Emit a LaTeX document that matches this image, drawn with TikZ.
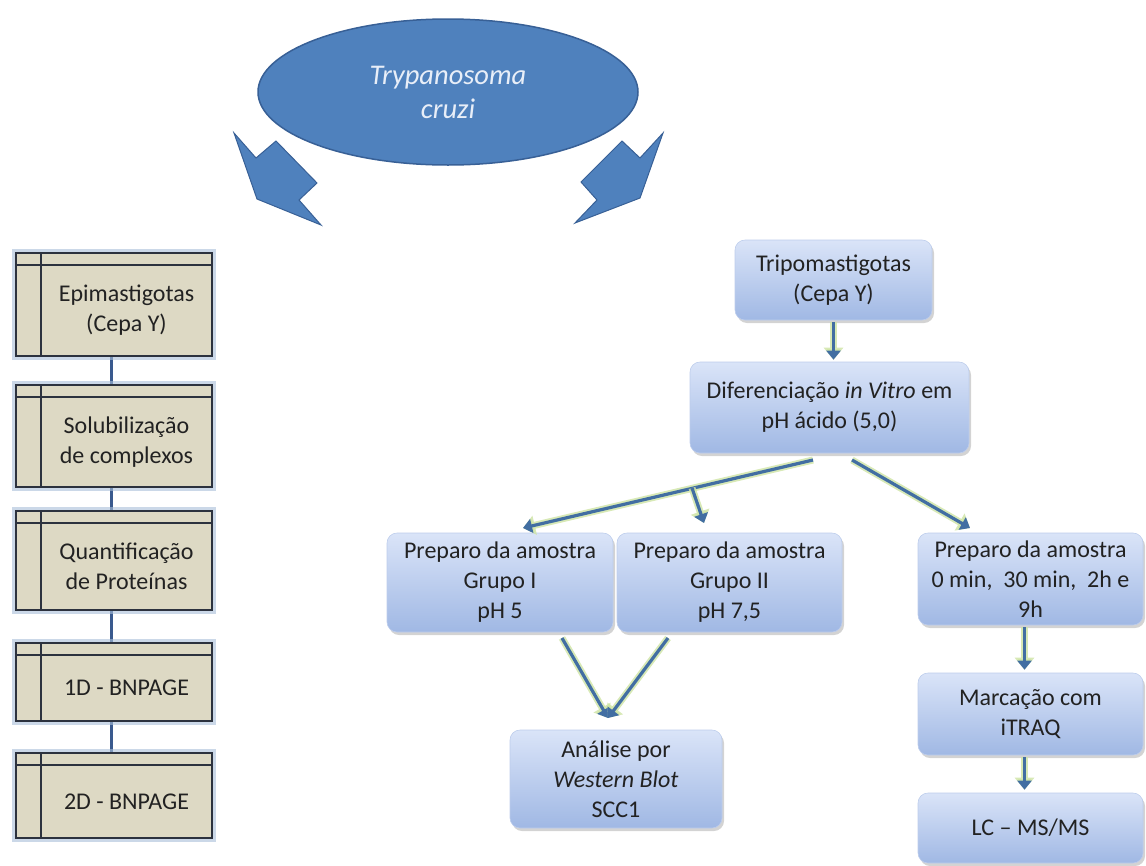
\documentclass[tikz,border=0pt]{standalone}
\usepackage{fontspec}
\setmainfont{Carlito}
\usetikzlibrary{shapes.geometric,shadows,arrows.meta,backgrounds,calc}

\definecolor{azul}{RGB}{79,129,189}
\definecolor{azulesc}{RGB}{56,96,150}
\definecolor{bege}{RGB}{221,217,196}
\definecolor{moldura}{RGB}{44,50,62}
\definecolor{halo}{RGB}{168,190,216}
\definecolor{seta}{RGB}{66,110,162}
\definecolor{brilho}{RGB}{206,228,164}
\definecolor{ligacao}{RGB}{58,90,142}
\definecolor{caixatopo}{RGB}{218,228,248}
\definecolor{caixabase}{RGB}{160,184,228}
\definecolor{texto}{RGB}{34,34,34}
\definecolor{claro}{RGB}{232,238,248}

\tikzset{
  etapa/.style={minimum width=171pt, inner sep=0pt, align=center, text=texto},
  moldbox/.style={fill=bege, draw=moldura, line width=1.6pt,
    preaction={draw=halo, line width=8pt, opacity=.6}},
  liga/.style={draw=ligacao, line width=3pt},
  passo/.style={rounded corners=10pt, top color=caixatopo, bottom color=caixabase,
    draw=caixabase!70!white, line width=.6pt, align=center, text=texto,
    inner sep=2pt, drop shadow={opacity=.35, shadow xshift=2pt, shadow yshift=-3pt}},
  seta/.style={draw=seta, line width=3.2pt, -{Triangle[length=9pt,width=14pt]},
    preaction={draw=brilho, line width=7pt, opacity=.8, -{Triangle[length=12pt,width=19pt]}}},
  bloco/.style={fill=azul, draw=azulesc, line width=1pt, line join=miter}
}

\begin{document}
\begin{tikzpicture}[x=1pt,y=-1pt,every node/.style={font=\fontsize{24}{30}\selectfont}]
  \useasboundingbox (0,0) rectangle (1146,865);

  % organismo
  \node[ellipse, fill=azul, draw=azulesc, line width=1.5pt, minimum width=380pt,
    minimum height=146pt, text=claro, align=center,
    font=\fontsize{28.5}{34}\selectfont\itshape] (tc) at (448,92) {Trypanosoma\\cruzi};
  \fill[bloco] (234,133) -- (256,158) -- (276,141) -- (317,183) -- (299,200)
    -- (321,225) -- (257,199) -- cycle;
  \fill[bloco] (663,133) -- (640,158) -- (622,141) -- (581,182) -- (597,200)
    -- (575,223) -- (640,198) -- cycle;

  % epimastigotas
  \node[etapa, minimum height=91pt] (epi) at (126.5,310.5) {Epimastigotas\\(Cepa Y)};
  \node[etapa, minimum height=90pt] (sol) at (126.5,442) {Solubilização\\de complexos};
  \node[etapa, minimum height=87pt] (qua) at (126.5,566.5) {Quantificação\\de Proteínas};
  \node[etapa, minimum height=66pt] (bn1) at (126.5,688) {1D - BNPAGE};
  \node[etapa, minimum height=73pt] (bn2) at (126.5,801.5) {2D - BNPAGE};

  \coordinate (xl) at (111,0);
  \begin{scope}[on background layer]
    \foreach \a/\b in {epi/sol,sol/qua,qua/bn1,bn1/bn2}
      \draw[liga] (\a.south -| xl) -- (\b.north -| xl);
    \foreach \n in {epi,sol,qua,bn1,bn2} {
      \draw[moldbox] ($(\n.north west)+(-25,-12)$) rectangle (\n.south east);
      \draw[moldura, line width=1.4pt] ($(\n.north west)+(-25,0)$) -- (\n.north east);
      \draw[moldura, line width=1.4pt] ($(\n.north west)+(0,-12)$) -- (\n.south west);
    }
  \end{scope}

  % tripomastigotas
  \node[passo, minimum width=197pt, minimum height=80pt] (trip) at (833.5,280)
    {Tripomastigotas\\(Cepa Y)};
  \node[passo, minimum width=279pt, minimum height=91pt] (dif) at (829.5,407.5)
    {Diferenciação \textit{in Vitro} em\\pH ácido (5,0)};
  \node[passo, minimum width=226pt, minimum height=99pt] (g1) at (500,582.5)
    {Preparo da amostra\\Grupo I\\pH 5};
  \node[passo, minimum width=225pt, minimum height=99pt] (g2) at (729.5,582.5)
    {Preparo da amostra\\Grupo II\\pH 7,5};
  \node[passo, minimum width=212pt, minimum height=98pt] (ana) at (616,779)
    {Análise por\\\textit{Western Blot}\\SCC1};
  \node[passo, minimum width=225pt, minimum height=92pt] (t0) at (1030.5,579)
    {Preparo da amostra\\0 min,\ \ 30 min,\ \ 2h e\\9h};
  \node[passo, minimum width=225pt, minimum height=82pt] (itraq) at (1030.5,714)
    {Marcação com\\iTRAQ};
  \node[passo, minimum width=225pt, minimum height=70pt] (lc) at (1030.5,828)
    {LC -- MS/MS};

  \coordinate (d1) at (813,460);
  \coordinate (d2) at (852,460);
  \coordinate (gI) at (523,528);
  \coordinate (b1) at (692,488);
  \coordinate (gII) at (704,523);
  \coordinate (gT) at (970,528);
  \coordinate (m) at (608,718);
  \coordinate (s1) at (562,638);
  \coordinate (s2) at (668,638);

  \draw[seta, shorten <=2pt, shorten >=2pt] (trip.south) -- (trip.south |- dif.north);
  \draw[seta] (d1) -- (gI);
  \draw[seta] (b1) -- (gII);
  \draw[seta] (d2) -- (gT);
  \draw[seta] (s1) -- (m);
  \draw[seta] (s2) -- (m);
  \draw[seta, shorten <=2pt, shorten >=3pt] (t0.south) ++(-6,0) -- ($(itraq.north)+(-6,0)$);
  \draw[seta, shorten <=2pt, shorten >=3pt] (itraq.south) ++(-6,0) -- ($(lc.north)+(-6,0)$);
\end{tikzpicture}
\end{document}
